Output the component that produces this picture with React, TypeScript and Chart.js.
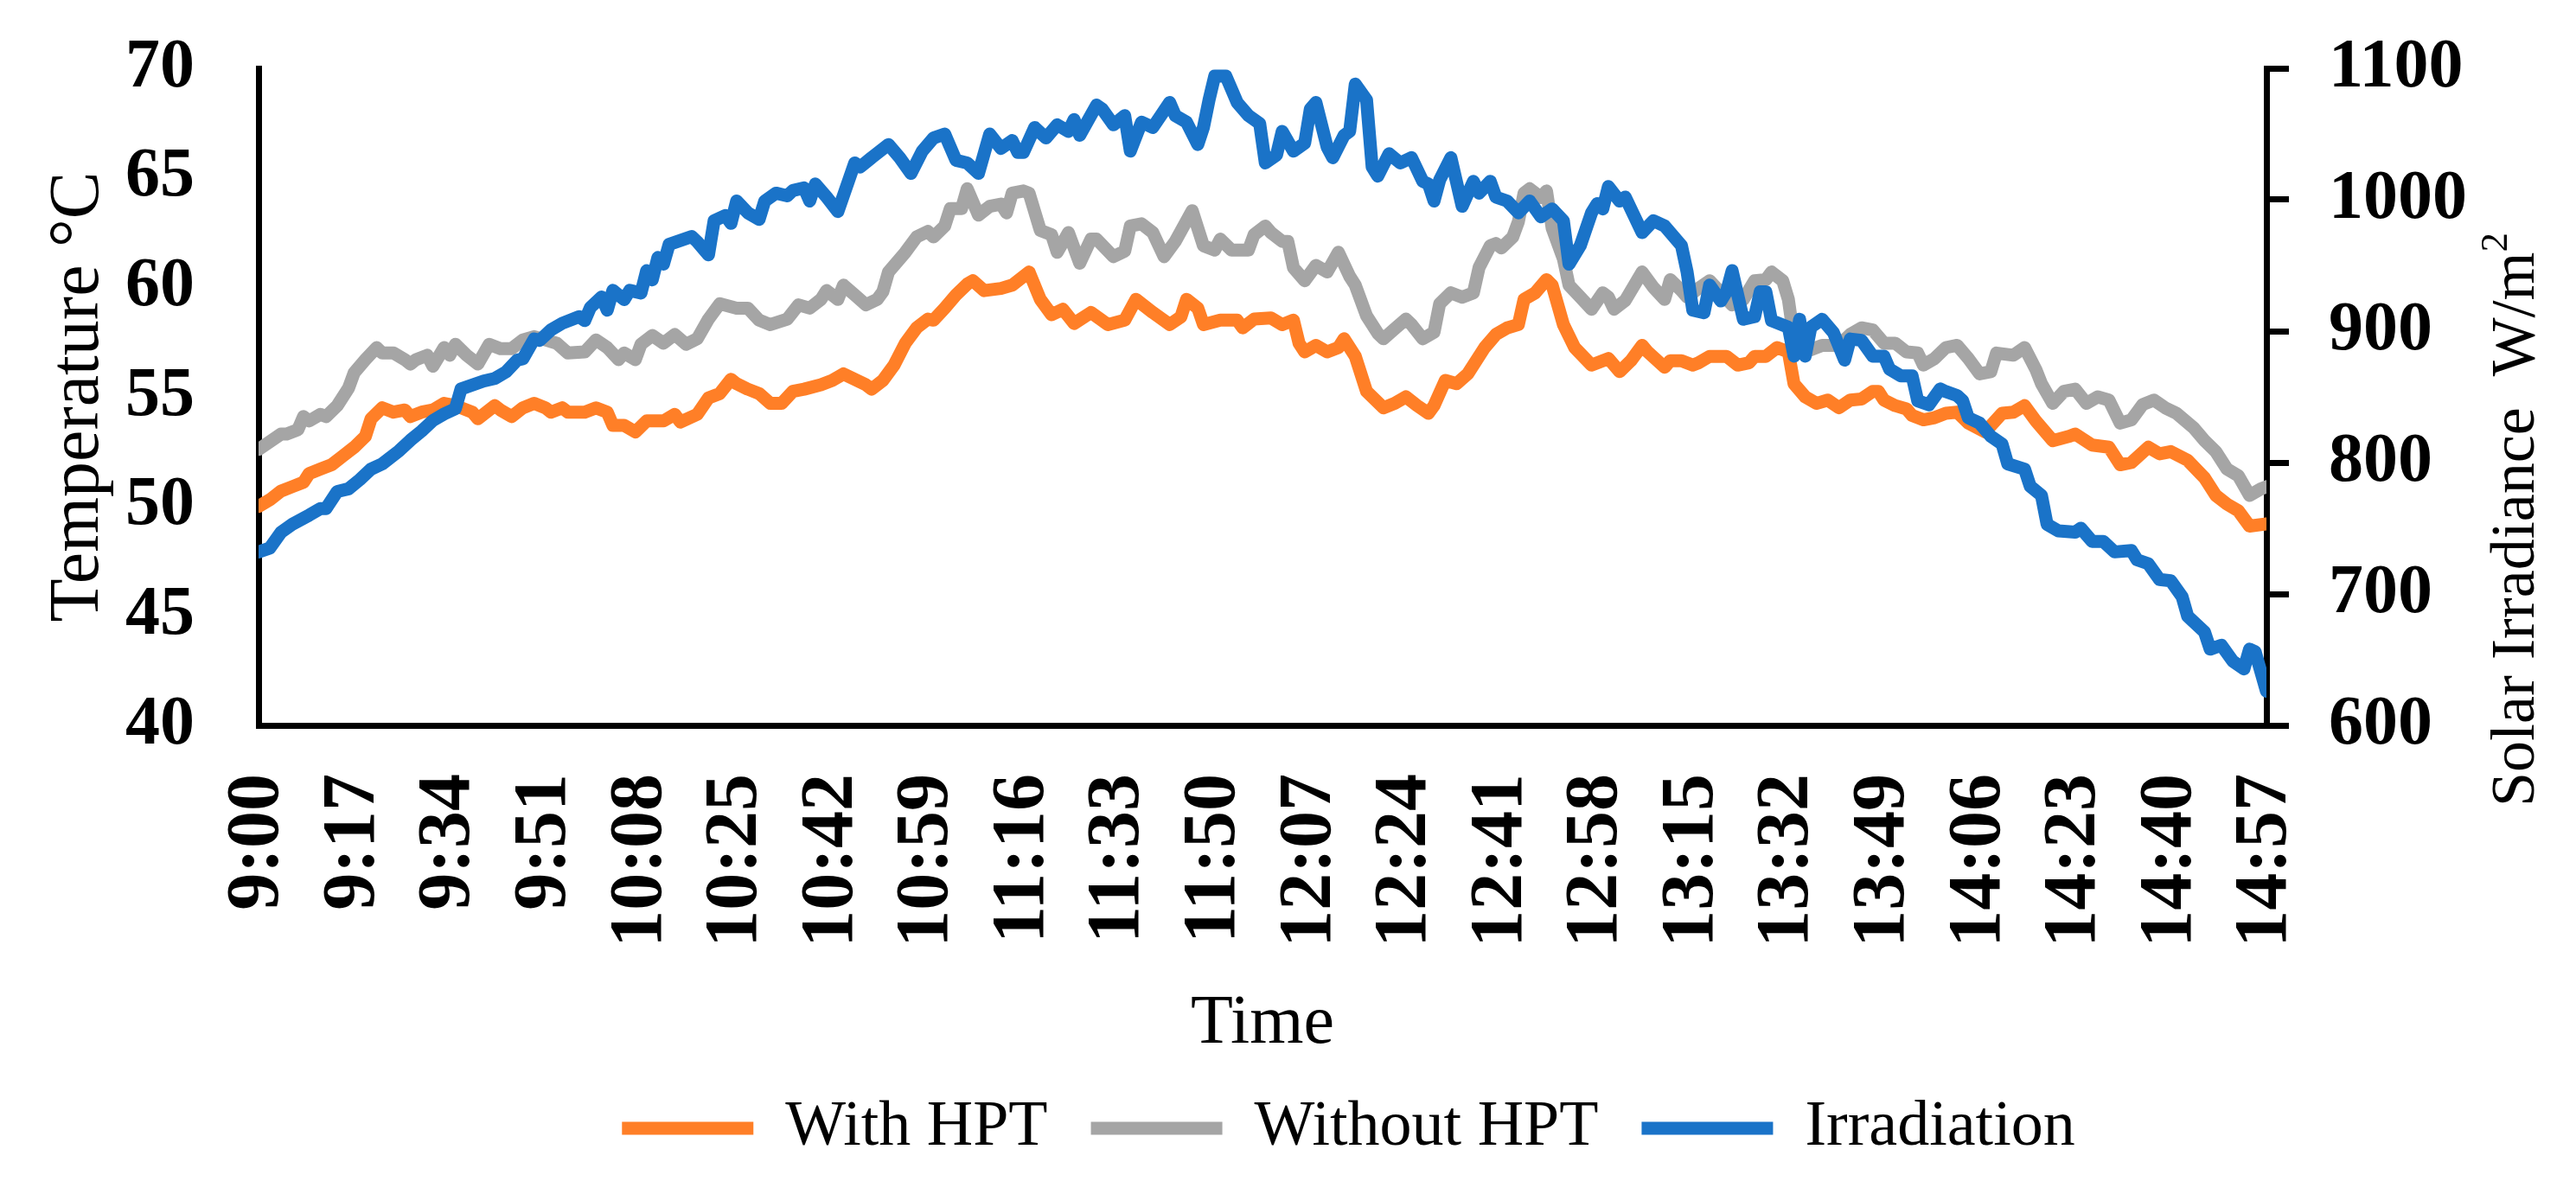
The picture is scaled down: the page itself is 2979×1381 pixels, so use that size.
import React, { useEffect, useRef } from "react";
import { Chart, registerables } from "chart.js";

Chart.register(...registerables);

// ---- Data (minutes after 9:00) ----
const START_HOUR = 9;
const X_MAX = 357;
const X_STEP = 17;

const withHptMin = [0,2,4,6,8,9,11,13,15,17,19,20,22,24,26,27,29,31,33,35,38,39,42,43,45,47,49,51,52,54,55,58,60,62,63,65,67,69,72,74,75,78,80,82,84,85,87,89,91,93,95,97,100,102,104,106,108,109,111,113,115,117,119,120,122,124,126,127,129,132,134,137,139,141,143,145,148,151,154,156,159,162,164,165,167,168,171,174,175,177,180,182,184,185,186,188,190,192,193,195,197,200,202,204,206,208,209,211,213,215,218,220,222,224,225,227,229,230,232,234,237,240,242,244,246,247,250,251,253,255,256,258,261,263,265,266,268,270,272,273,275,277,279,281,283,285,287,288,289,291,293,294,296,298,300,302,304,307,310,312,314,316,319,322,323,326,329,331,333,336,338,340,343,346,348,350,352,354,357];
const withHptVal = [50.0,50.3,50.7,50.9,51.1,51.5,51.7,51.9,52.3,52.7,53.2,54.0,54.5,54.3,54.4,54.1,54.3,54.4,54.7,54.6,54.3,54.0,54.6,54.4,54.1,54.5,54.7,54.5,54.3,54.5,54.3,54.3,54.5,54.3,53.7,53.7,53.4,53.9,53.9,54.2,53.85,54.2,54.95,55.15,55.8,55.6,55.35,55.15,54.7,54.7,55.25,55.35,55.55,55.75,56.05,55.8,55.55,55.35,55.75,56.45,57.45,58.15,58.55,58.5,59.05,59.65,60.15,60.3,59.85,59.95,60.1,60.7,59.45,58.75,59.0,58.35,58.85,58.3,58.5,59.45,58.85,58.3,58.65,59.45,59.05,58.3,58.5,58.5,58.15,58.55,58.6,58.3,58.5,57.45,57.05,57.35,57.05,57.25,57.65,56.85,55.25,54.5,54.7,55.0,54.6,54.25,54.6,55.75,55.6,56.05,57.25,57.85,58.15,58.3,59.45,59.75,60.35,60.1,58.3,57.25,56.45,56.75,56.15,56.65,57.35,57.05,56.35,56.65,56.65,56.45,56.55,56.85,56.85,56.45,56.55,56.85,56.85,57.25,57.05,55.6,55.0,54.7,54.85,54.5,54.85,54.9,55.25,55.25,54.85,54.6,54.45,54.15,53.95,54.05,54.25,54.3,53.8,53.4,54.25,54.3,54.6,53.9,53.0,53.2,53.3,52.8,52.7,51.9,52.0,52.7,52.4,52.5,52.1,51.3,50.5,50.1,49.8,49.1,49.2];

const withoutHptMin = [0,4,5,7,8,9,11,12,14,16,17,19,21,22,24,26,27,28,30,31,33,34,35,37,39,41,43,45,47,49,51,53,55,58,60,62,64,65,67,68,70,72,74,76,78,80,82,85,87,89,91,94,96,98,100,101,103,104,106,108,110,111,112,115,117,119,120,122,123,125,126,128,130,132,133,134,136,137,139,141,142,144,146,148,149,152,154,155,157,159,161,163,166,168,170,171,173,176,177,179,180,182,183,184,186,188,190,192,194,195,197,199,200,202,204,205,207,209,210,212,214,216,217,219,220,221,223,224,225,226,228,229,230,232,233,235,237,239,240,241,243,246,248,250,251,253,254,256,258,260,262,264,266,268,269,271,272,273,275,278,281,283,285,287,289,291,293,295,296,298,300,302,304,306,308,309,312,314,316,317,319,321,323,325,327,329,331,333,335,337,339,341,344,346,348,350,352,354,356,357];
const withoutHptVal = [52.6,53.3,53.3,53.5,54.1,53.9,54.2,54.1,54.6,55.4,56.1,56.7,57.25,57.0,57.0,56.7,56.5,56.7,56.9,56.4,57.25,56.9,57.4,56.9,56.5,57.4,57.2,57.2,57.6,57.75,57.6,57.45,57.0,57.05,57.6,57.25,56.7,57.0,56.7,57.4,57.8,57.45,57.85,57.4,57.65,58.55,59.25,59.05,59.05,58.5,58.3,58.55,59.2,59.05,59.45,59.85,59.45,60.1,59.65,59.2,59.45,59.8,60.7,61.6,62.3,62.55,62.3,62.8,63.6,63.6,64.5,63.3,63.7,63.8,63.4,64.3,64.4,64.3,62.6,62.4,61.6,62.5,61.1,62.2,62.2,61.4,61.65,62.8,62.9,62.5,61.4,62.1,63.5,61.9,61.7,62.2,61.7,61.7,62.4,62.8,62.5,62.1,62.1,60.9,60.3,61.0,60.7,61.6,60.5,60.1,58.7,57.9,57.65,58.1,58.55,58.3,57.65,57.95,59.25,59.75,59.55,59.75,60.9,61.9,62.0,61.8,62.3,63.0,64.3,64.5,64.1,64.4,62.7,61.3,60.1,59.55,59.0,59.75,59.55,59.0,59.4,60.7,60.0,59.45,60.35,59.85,59.55,59.95,60.3,59.75,59.2,59.45,60.3,60.35,60.7,60.3,59.45,57.65,57.05,57.35,57.35,57.85,58.15,58.05,57.45,57.45,57.05,57.0,56.45,56.75,57.25,57.35,56.75,56.05,56.15,57.0,56.9,57.25,56.25,55.6,54.7,55.25,55.35,54.7,55.0,54.85,53.8,53.95,54.65,54.85,54.5,54.25,53.6,53.0,52.5,51.7,51.4,50.5,50.8,50.9];

const irradiationMin = [0,2,4,6,9,11,12,14,16,18,20,22,25,27,29,31,33,35,36,40,42,44,46,47,49,50,52,54,57,58,59,61,62,63,65,66,68,69,70,71,72,73,77,78,80,81,83,84,85,87,89,90,92,94,95,97,98,99,101,103,106,107,109,112,114,116,118,120,122,123,124,126,128,130,132,134,135,136,138,140,142,144,145,146,149,150,152,154,155,157,159,162,163,165,167,168,169,170,172,174,176,178,179,181,182,184,186,187,188,190,191,193,194,195,197,198,199,201,203,205,207,208,209,210,212,214,216,217,219,220,222,224,226,228,230,232,233,235,237,238,239,240,242,243,246,248,250,253,254,255,257,258,260,261,262,264,266,267,268,269,272,273,274,275,276,278,280,282,283,285,287,289,290,292,294,295,297,299,300,302,303,304,306,308,310,311,314,315,317,318,320,323,324,326,328,330,333,334,336,338,340,342,343,346,347,349,351,353,354,355,357];
const irradiationVal = [732,735,747,753,760,765,765,778,780,787,795,799,809,817,824,832,837,841,856,862,864,869,878,879,894,893,901,906,911,908,918,926,916,931,924,931,929,946,939,956,951,966,972,968,958,984,988,982,999,990,985,999,1005,1003,1007,1009,999,1012,1002,991,1028,1025,1032,1042,1032,1020,1037,1047,1050,1040,1030,1028,1020,1050,1039,1045,1036,1036,1055,1047,1057,1052,1061,1049,1072,1069,1057,1064,1037,1059,1055,1074,1064,1059,1042,1055,1076,1094,1094,1074,1064,1058,1028,1034,1052,1037,1043,1069,1074,1040,1032,1049,1052,1088,1076,1025,1018,1035,1028,1032,1014,1012,999,1015,1032,995,1014,1005,1014,1002,999,990,999,987,993,984,951,965,990,997,993,1010,999,1002,975,984,980,965,945,916,914,935,923,930,946,909,911,930,930,908,903,881,909,881,903,909,899,878,894,893,881,881,871,866,866,847,844,856,854,851,847,834,830,820,814,799,795,782,775,753,748,747,750,740,740,732,733,726,723,711,710,698,683,671,658,661,649,643,658,656,626];

const seriesNames = ["With HPT", "Without HPT", "Irradiation"];
const seriesColors = ["#FF7F27", "#A5A5A5", "#1A73C8"];

const TEMP_MIN = 40, TEMP_MAX = 70, TEMP_STEP = 5;
const IRR_MIN = 600, IRR_MAX = 1100, IRR_STEP = 100;

const FONT = '"Liberation Serif", "Times New Roman", serif';

function fmtTime(m: number): string {
  const h = START_HOUR + Math.floor(m / 60);
  const mm = Math.round(m % 60);
  return `${h}:${mm < 10 ? "0" + mm : mm}`;
}

function toPoints(xs: number[], ys: number[]) {
  return xs.map((x, i) => ({ x, y: ys[i] }));
}

const rightTitlePlugin = {
  id: "rightTitle",
  afterDraw(chart: any) {
    const ctx = chart.ctx;
    const size = 72;
    const main = "Solar Irradiance  W/m";
    const sup = "2";
    ctx.save();
    ctx.fillStyle = "#000";
    ctx.font = `${size}px ${FONT}`;
    const w1 = ctx.measureText(main).width;
    ctx.font = `${Math.round(size * 0.62)}px ${FONT}`;
    const w2 = ctx.measureText(sup).width;
    const total = w1 + w2;
    ctx.translate(2911, 601);
    ctx.rotate(-Math.PI / 2);
    ctx.textBaseline = "middle";
    ctx.textAlign = "left";
    ctx.font = `${size}px ${FONT}`;
    ctx.fillText(main, -total / 2, 0);
    ctx.font = `${Math.round(size * 0.62)}px ${FONT}`;
    ctx.fillText(sup, -total / 2 + w1, -size * 0.33);
    ctx.restore();
  },
};

function zeroPad(s: any) {
  s.paddingTop = 0;
  s.paddingBottom = 0;
  s.paddingLeft = 0;
  s.paddingRight = 0;
}

export default function App() {
  const canvasRef = useRef<HTMLCanvasElement | null>(null);

  useEffect(() => {
    if (!canvasRef.current) return;
    const common = {
      pointRadius: 0,
      borderWidth: 15,
      borderJoinStyle: "round" as const,
      borderCapStyle: "round" as const,
      tension: 0,
      fill: false,
    };
    const chart = new Chart(canvasRef.current, {
      type: "line",
      data: {
        datasets: [
          {
            ...common,
            label: seriesNames[0],
            data: toPoints(withHptMin, withHptVal),
            borderColor: seriesColors[0],
            backgroundColor: seriesColors[0],
            yAxisID: "y",
            order: 1,
          },
          {
            ...common,
            label: seriesNames[1],
            data: toPoints(withoutHptMin, withoutHptVal),
            borderColor: seriesColors[1],
            backgroundColor: seriesColors[1],
            yAxisID: "y",
            order: 2,
          },
          {
            ...common,
            label: seriesNames[2],
            data: toPoints(irradiationMin, irradiationVal),
            borderColor: seriesColors[2],
            backgroundColor: seriesColors[2],
            yAxisID: "y1",
            order: 0,
          },
        ],
      },
      options: {
        animation: false,
        responsive: true,
        maintainAspectRatio: false,
        devicePixelRatio: 1,
        layout: { padding: { left: 140, right: 0, top: 79, bottom: 29 } },
        plugins: {
          tooltip: { enabled: false },
          legend: {
            display: true,
            position: "bottom",
            labels: {
              usePointStyle: true,
              pointStyle: "line",
              pointStyleWidth: 152,
              padding: 50,
              color: "#000",
              font: { family: FONT, size: 74 },
              sort: (a: any, b: any) => a.datasetIndex - b.datasetIndex,
            },
          },
        },
        scales: {
          x: {
            type: "linear",
            position: "bottom",
            min: 0,
            max: X_MAX,
            grid: { display: false, drawTicks: false },
            border: { display: true, color: "#000", width: 7 },
            ticks: {
              stepSize: X_STEP,
              autoSkip: false,
              minRotation: 90,
              maxRotation: 90,
              padding: 56,
              color: "#000",
              font: { family: FONT, size: 86, weight: "bold" },
              callback: (v: any) => fmtTime(Number(v)),
            },
            title: {
              display: true,
              text: "Time",
              color: "#000",
              font: { family: FONT, size: 80 },
              padding: { top: 0, bottom: -15 },
            },
            afterFit: (s: any) => {
              s.height = 379;
              zeroPad(s);
            },
          },
          y: {
            type: "linear",
            position: "left",
            min: TEMP_MIN,
            max: TEMP_MAX,
            grid: { display: false, drawTicks: false },
            border: { display: true, color: "#000", width: 7 },
            ticks: {
              stepSize: TEMP_STEP,
              padding: 74,
              color: "#000",
              font: { family: FONT, size: 80, weight: "bold" },
            },
            title: {
              display: true,
              text: "Temperature °C",
              color: "#000",
              font: { family: FONT, size: 82 },
              padding: { top: -98, bottom: 0 },
            },
            afterFit: (s: any) => {
              s.width = 159;
              zeroPad(s);
            },
          },
          y1: {
            type: "linear",
            position: "right",
            min: IRR_MIN,
            max: IRR_MAX,
            grid: {
              display: true,
              drawOnChartArea: false,
              drawTicks: true,
              tickLength: 26,
              lineWidth: 7,
              color: "#000",
            },
            border: { display: true, color: "#000", width: 7 },
            ticks: {
              stepSize: IRR_STEP,
              padding: 46,
              color: "#000",
              font: { family: FONT, size: 80, weight: "bold" },
              callback: (v: any) => String(v),
            },
            afterFit: (s: any) => {
              s.width = 358;
              zeroPad(s);
            },
          },
        },
      },
      plugins: [rightTitlePlugin],
    } as any);
    return () => chart.destroy();
  }, []);

  return (
    <div
      style={{
        position: "fixed",
        left: 0,
        top: 0,
        width: 2979,
        height: 1381,
        background: "#fff",
      }}
    >
      <canvas ref={canvasRef} />
    </div>
  );
}
